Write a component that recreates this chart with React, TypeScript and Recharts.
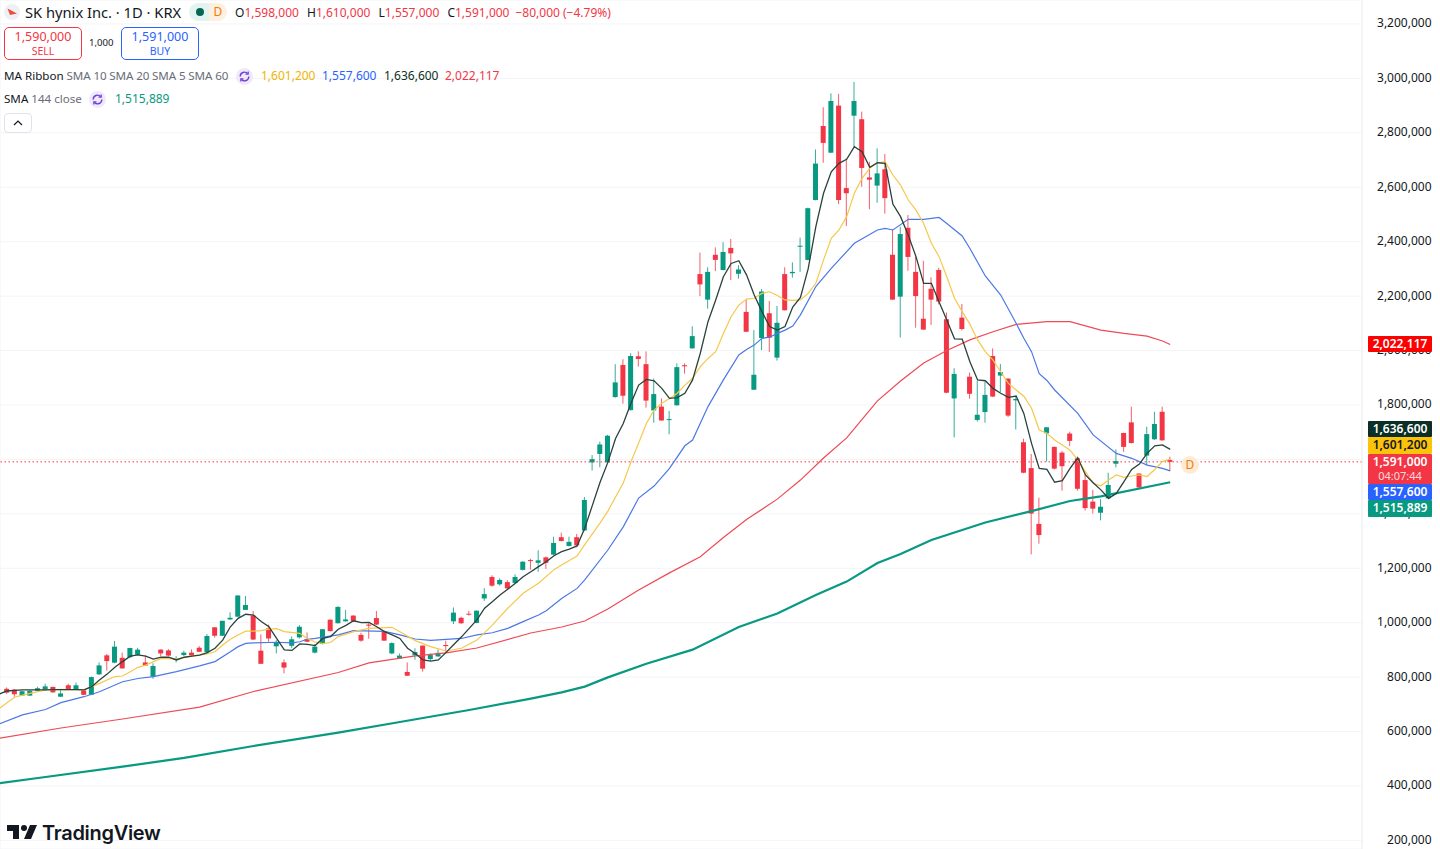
import React from 'react';
import { ComposedChart, Bar, Line, XAxis, YAxis, CartesianGrid, ReferenceLine } from 'recharts';

// All prices in thousand KRW. Candle index 0 is the first full candle in view.
const opens = [757,754,732,732,750,753,764,728,770,754,751,735,810,880,853,871,873,882,854,802,901,898,863,881,890,908,892,983,952,1012,1022,1047,1026,897,979,913,854,915,946,940,890,922,1011,998,1005,1026,955,993,1017,969,887,868,819,880,916,866,876,918,1005,1018,1033,999,1089,1168,1141,1149,1146,1194,1230,1220,1240,1250,1314,1282,1314,1339,1589,1620,1589,1829,1947,1781,1979,1950,1780,1794,1745,1799,1946,2008,2281,2187,2352,2296,2377,2282,2142,1856,2046,2137,1974,2281,2284,2383,2333,2553,2825,2727,2900,2597,2863,2850,2636,2606,2666,2352,2198,2451,2289,2117,2227,2296,2115,1824,2121,1904,1745,1774,1980,1908,1897,1817,1663,1568,1363,1696,1646,1625,1695,1604,1524,1445,1404,1457,1584,1697,1736,1548,1614,1674,1775,1598];
const closes = [743,737,748,750,759,766,744,740,755,770,735,800,843,859,912,832,907,901,842,841,887,879,868,890,880,893,951,952,1007,1018,1100,1065,938,849,942,928,835,939,985,930,912,976,969,1058,1012,1005,934,989,993,934,925,879,805,892,831,881,889,914,1037,998,1031,1044,1105,1136,1157,1126,1168,1224,1228,1229,1220,1293,1300,1297,1284,1451,1601,1655,1687,1883,1834,1980,1969,1816,1840,1743,1748,1939,1942,2053,2243,2289,2333,2362,2357,2298,2069,1911,2217,2047,2102,2148,2289,2385,2523,2687,2763,2917,2553,2578,2917,2671,2628,2651,2560,2187,2428,2344,2200,2077,2187,2180,1845,1914,2079,1841,1764,1837,1831,1921,1761,1822,1551,1401,1322,1718,1566,1575,1668,1492,1421,1419,1426,1506,1594,1646,1660,1497,1693,1730,1670,1591];
const highs = [762,756,750,750,765,776,765,755,776,780,756,802,854,885,933,890,908,908,880,851,902,903,877,897,902,914,958,984,1007,1038,1100,1098,1043,957,993,936,865,949,991,964,922,977,1012,1060,1047,1028,963,998,1043,971,928,887,854,906,916,887,902,934,1056,1022,1044,1045,1127,1174,1163,1156,1178,1226,1235,1266,1243,1316,1331,1316,1326,1462,1616,1665,1690,1950,1968,1990,1997,1997,1897,1824,1778,1953,1953,2089,2360,2306,2379,2398,2410,2314,2188,2075,2226,2182,2164,2306,2324,2415,2525,2739,2894,2945,2943,2706,2987,2878,2694,2743,2722,2445,2455,2498,2345,2330,2269,2304,2140,1935,2171,1919,1889,1886,2008,1951,1898,1830,1676,1620,1459,1718,1647,1631,1702,1610,1549,1488,1454,1551,1637,1698,1794,1549,1720,1775,1794,1610];
const lows = [738,728,732,732,749,750,743,728,753,753,734,734,808,824,851,831,871,881,841,794,877,877,854,877,877,892,885,945,951,1010,1022,1047,936,848,930,887,814,906,942,929,887,920,968,997,1004,1004,930,941,991,933,884,867,805,864,820,859,875,893,995,995,1026,998,1080,1132,1136,1123,1142,1192,1195,1187,1198,1249,1299,1280,1277,1337,1559,1571,1588,1827,1805,1780,1941,1790,1735,1742,1692,1797,1915,2007,2200,2154,2292,2295,2259,2264,2068,1855,2002,1995,1963,2147,2268,2289,2331,2552,2690,2726,2538,2458,2749,2602,2519,2543,2503,2186,2048,2293,2084,2076,2094,2170,1843,1681,2074,1823,1739,1735,1829,1848,1756,1710,1549,1251,1290,1592,1563,1485,1649,1485,1412,1401,1376,1454,1571,1628,1659,1491,1579,1671,1669,1557];

// SMA 5, one reading per candle, starting with the partly hidden candle -1.
const sma5 = [738,749,751,753,753,753,753,754,754,754,754,753,765,789,811,836,857,877,882,877,866,873,873,863,873,877,881,890,906,936,985,1016,1031,1028,1004,985,942,900,898,922,920,916,942,949,976,990,1007,1000,1001,985,967,955,942,906,887,863,859,863,891,920,948,979,1010,1053,1077,1102,1123,1145,1169,1187,1206,1224,1246,1261,1270,1282,1347,1432,1517,1589,1677,1732,1806,1873,1894,1889,1861,1824,1827,1843,1892,1990,2106,2186,2271,2320,2330,2278,2204,2143,2088,2075,2088,2160,2195,2300,2455,2578,2657,2688,2703,2749,2731,2673,2690,2688,2538,2492,2424,2345,2247,2247,2178,2112,2043,2042,1959,1892,1889,1861,1843,1828,1833,1769,1659,1567,1563,1516,1522,1567,1606,1543,1514,1488,1457,1475,1518,1563,1583,1622,1650,1653,1637];

type Pt = [number, number];
const sma10: Pt[] = [[-1,685],[0,706],[1,726],[2,734],[3,740],[5,753],[7,755],[10,753],[11,765],[12,777],[14,802],[15,804],[16,820],[17,836],[18,844],[20,869],[22,866],[24,877],[26,885],[27,893],[28,918],[29,939],[30,955],[31,969],[32,969],[33,971],[34,976],[35,978],[36,967],[38,961],[39,942],[40,929],[41,923],[42,927],[43,949],[45,967],[47,979],[50,983],[51,967],[53,934],[55,912],[57,896],[59,906],[61,936],[63,991],[65,1053],[67,1108],[69,1145],[71,1195],[72,1212],[74,1245],[75,1287],[77,1367],[78,1410],[80,1513],[81,1591],[82,1660],[83,1732],[84,1781],[85,1806],[86,1824],[87,1843],[88,1873],[89,1898],[90,1941],[91,1971],[92,1996],[93,2063],[94,2124],[95,2167],[96,2189],[97,2192],[98,2210],[99,2216],[100,2202],[101,2186],[102,2184],[103,2186],[104,2210],[105,2247],[106,2333],[107,2412],[108,2443],[109,2492],[110,2578],[111,2633],[112,2670],[113,2690],[114,2694],[115,2645],[116,2608],[117,2553],[118,2516],[119,2467],[120,2394],[121,2345],[122,2271],[123,2192],[124,2143],[125,2097],[126,2039],[127,1996],[128,1965],[129,1922],[130,1879],[131,1855],[132,1832],[133,1788],[134,1708],[135,1696],[136,1671],[137,1653],[138,1634],[139,1598],[140,1555],[141,1512],[142,1503],[143,1524],[144,1543],[145,1534],[146,1539],[147,1543],[148,1537],[149,1563],[150,1592],[151,1601]];
const sma20: Pt[] = [[-1,628],[2,661],[5,681],[7,706],[10,728],[12,746],[15,783],[17,795],[19,802],[22,820],[25,841],[27,857],[29,893],[30,912],[31,924],[32,926],[35,928],[37,926],[38,930],[39,939],[40,942],[43,955],[45,971],[49,968],[51,955],[53,940],[55,935],[57,939],[59,942],[61,955],[63,963],[65,979],[67,1004],[69,1028],[70,1044],[72,1089],[74,1126],[75,1157],[78,1267],[80,1352],[82,1458],[84,1502],[86,1567],[88,1650],[89,1671],[91,1794],[93,1892],[95,1984],[96,2004],[97,2020],[98,2045],[99,2049],[100,2063],[101,2075],[102,2090],[103,2131],[105,2235],[107,2302],[110,2394],[113,2443],[114,2449],[115,2443],[117,2482],[119,2482],[121,2489],[122,2467],[124,2421],[125,2375],[127,2274],[129,2204],[131,2100],[132,2045],[133,1996],[134,1915],[135,1890],[136,1855],[139,1769],[141,1690],[144,1622],[146,1604],[148,1579],[150,1567],[151,1558]];
const sma60: Pt[] = [[-1,575],[7,613],[15,646],[25,690],[32,747],[43,817],[47,852],[53,878],[57,889],[61,907],[68,962],[72,984],[75,1006],[78,1050],[82,1120],[86,1183],[90,1242],[93,1313],[96,1379],[100,1454],[103,1524],[106,1605],[109,1679],[113,1815],[116,1888],[119,1954],[122,2000],[125,2039],[128,2069],[131,2096],[135,2106],[138,2106],[142,2075],[145,2063],[148,2053],[150,2035],[151,2022]];
const sma144: Pt[] = [[-1,410],[5,433],[15,471],[23,503],[32,547],[43,596],[51,635],[60,679],[68,721],[72,744],[75,765],[78,799],[83,849],[89,901],[95,984],[100,1034],[105,1102],[109,1151],[113,1219],[116,1252],[120,1304],[127,1368],[133,1410],[138,1447],[142,1464],[151,1516]];

const yTicks = [200,400,600,800,1000,1200,1400,1600,1800,2000,2200,2400,2600,2800,3000,3200];
const dayTicks = [15,32,53,75,93,114,136,156];
const lastClose = 1591;

const UP = '#089981';
const DOWN = '#f23645';
const BLACK = '#2a423c';
const YELLOW = '#f5c84c';
const BLUE = '#4c78e6';
const K = 1000;
const FONT = '"Noto Sans", sans-serif';

const find = (s: Pt[], i: number) => { const p = s.find((q) => q[0] === i); return p ? p[1] * K : null; };
const rows = sma5.map((v, n) => {
  const i = n - 1;
  const has = i >= 0;
  return {
    i,
    o: has ? opens[i] * K : null,
    c: has ? closes[i] * K : null,
    range: has ? [lows[i] * K, highs[i] * K] : null,
    sma5: v * K,
    sma10: find(sma10, i),
    sma20: find(sma20, i),
    sma60: find(sma60, i),
    sma144: find(sma144, i),
  };
});

const Candle = (props: any) => {
  const { x, y, width, height, payload } = props;
  if (!payload || !payload.range || height == null) return null;
  const [lo, hi] = payload.range;
  const perUnit = height / (hi - lo);
  const at = (v: number) => y + (hi - v) * perUnit;
  const cx = x + width / 2;
  const up = payload.c >= payload.o;
  const col = up ? UP : DOWN;
  const top = at(Math.max(payload.o, payload.c));
  const bot = at(Math.min(payload.o, payload.c));
  return (
    <g>
      <rect x={cx - 0.5} y={y} width={1} height={height} fill={col} fillOpacity={0.8} />
      <rect x={cx - 2.5} y={top} width={5} height={Math.max(1, bot - top)} fill={col} />
    </g>
  );
};

const YTick = (props: any) => {
  const { y, payload } = props;
  return (
    <text x={1431.5} y={y - 0.5} dy={4} textAnchor="end" fontFamily={FONT} fontSize={12} fill="#131722">
      {(payload.value).toLocaleString('en-US')}
    </text>
  );
};

const abs = (l: number, t: number, extra: React.CSSProperties = {}): React.CSSProperties => ({ position: 'absolute', left: l, top: t, whiteSpace: 'nowrap', ...extra });

const Badge = ({ top, h, bg, fg, text, sub }: { top: number; h: number; bg: string; fg: string; text: string; sub?: string }) => (
  <div style={abs(1368, top, { width: 64, height: h, background: bg, color: fg, fontSize: 12, textAlign: 'center', borderRadius: 1, fontWeight: 600, lineHeight: '16px' })}>
    {text}
    {sub ? <div style={{ fontSize: 11, fontWeight: 400, lineHeight: '12px', opacity: 0.8 }}>{sub}</div> : null}
  </div>
);

const Loop = ({ l, t }: { l: number; t: number }) => (
  <svg style={abs(l, t)} width={17} height={17} viewBox="0 0 17 17">
    <circle cx={8.5} cy={8.5} r={8.5} fill="#efe9fb" />
    <path d="M4.2 8.5a4.3 4.3 0 0 1 7.4-3M12.8 8.5a4.3 4.3 0 0 1-7.4 3" fill="none" stroke="#6d3fd6" strokeWidth={1.4} />
    <path d="M12.2 3.4v2.8H9.5M4.8 13.6v-2.8h2.7" fill="none" stroke="#6d3fd6" strokeWidth={1.2} />
  </svg>
);

const TradeBox = ({ l, col, price, word }: { l: number; col: string; price: string; word: string }) => (
  <div style={abs(l, 27, { width: 76, height: 31, border: `1px solid ${col}`, borderRadius: 5, color: col, textAlign: 'center', background: '#fff' })}>
    <div style={{ fontSize: 12.5, lineHeight: '17px', marginTop: 0 }}>{price}</div>
    <div style={{ fontSize: 10.5, lineHeight: '12px' }}>{word}</div>
  </div>
);

export default function App() {
  document.body.style.margin = '0';
  return (
    <div style={{ position: 'relative', width: 1440, height: 849, overflow: 'hidden', background: '#fff', fontFamily: FONT, color: '#131722' }}>
      <ComposedChart width={1440} height={849} data={rows} margin={{ top: 0, right: 0, bottom: 0, left: 0 }}>
        <CartesianGrid stroke="#f3f4f6" strokeWidth={1} />
        <XAxis dataKey="i" type="number" domain={[-0.909, 175.9]} allowDataOverflow ticks={dayTicks} tick={false} tickLine={false} axisLine={false} height={0} />
        <YAxis orientation="right" width={78} domain={[168369, 3288086]} allowDataOverflow ticks={yTicks.map((v) => v * K)} interval={0} tick={<YTick />} tickLine={false} axisLine={{ stroke: '#eef0f3' }} />
        <ReferenceLine y={lastClose * K} stroke={DOWN} strokeDasharray="1.5 2.5" strokeWidth={1} />
        <Bar dataKey="range" barSize={5} shape={<Candle />} isAnimationActive={false} />
        <Line dataKey="sma144" stroke={UP} strokeWidth={2.2} dot={false} connectNulls type="linear" isAnimationActive={false} />
        <Line dataKey="sma60" stroke="#ee4a55" strokeWidth={1.2} dot={false} connectNulls type="linear" isAnimationActive={false} />
        <Line dataKey="sma20" stroke={BLUE} strokeWidth={1.2} dot={false} connectNulls type="linear" isAnimationActive={false} />
        <Line dataKey="sma10" stroke={YELLOW} strokeWidth={1.2} dot={false} connectNulls type="linear" isAnimationActive={false} />
        <Line dataKey="sma5" stroke={BLACK} strokeWidth={1.3} dot={false} type="linear" isAnimationActive={false} />
      </ComposedChart>

      {/* header */}
      <svg style={abs(4, 4)} width={16} height={16} viewBox="0 0 16 16">
        <circle cx={8} cy={8} r={8} fill="#eef0f5" />
        <path d="M3.5 4.5L13 9.5L6 11Z" fill="#e8503a" />
      </svg>
      <div style={abs(25, 2, { fontSize: 14.7, lineHeight: '20px' })}>SK hynix Inc. · 1D · KRX</div>
      <div style={abs(189, 3, { width: 20, height: 18, background: '#e3f3ef', borderRadius: '9px 0 0 9px' })}>
        <div style={{ position: 'absolute', left: 7, top: 5, width: 8, height: 8, borderRadius: 4, background: '#056656' }} />
      </div>
      <div style={abs(209, 3, { width: 18, height: 18, background: '#fdf0e0', borderRadius: '0 9px 9px 0', color: '#f57c00', fontSize: 12, lineHeight: '18px', textAlign: 'center' })}>D</div>
      <div style={abs(235, 4, { fontSize: 12, lineHeight: '17px', color: DOWN })}>
        <span style={{ color: '#131722' }}>O</span>1,598,000{'  '}
        <span style={{ color: '#131722', marginLeft: 5 }}>H</span>1,610,000{'  '}
        <span style={{ color: '#131722', marginLeft: 5 }}>L</span>1,557,000{'  '}
        <span style={{ color: '#131722', marginLeft: 5 }}>C</span>1,591,000
        <span style={{ marginLeft: 6 }}>−80,000 (−4.79%)</span>
      </div>
      <TradeBox l={4} col={DOWN} price="1,590,000" word="SELL" />
      <div style={abs(89, 35, { fontSize: 9.6, lineHeight: '16px' })}>1,000</div>
      <TradeBox l={121} col="#2962ff" price="1,591,000" word="BUY" />

      <div style={abs(4, 68, { fontSize: 11.6, lineHeight: '16px' })}>
        MA Ribbon <span style={{ color: '#6a6d78', letterSpacing: -0.12 }}>SMA 10 SMA 20 SMA 5 SMA 60</span>
      </div>
      <Loop l={236} t={68} />
      <div style={abs(261, 68, { fontSize: 12, lineHeight: '16px', color: '#f0b400' })}>1,601,200</div>
      <div style={abs(322, 68, { fontSize: 12, lineHeight: '16px', color: '#2962ff' })}>1,557,600</div>
      <div style={abs(384, 68, { fontSize: 12, lineHeight: '16px', color: '#0d2f27' })}>1,636,600</div>
      <div style={abs(445, 68, { fontSize: 12, lineHeight: '16px', color: DOWN })}>2,022,117</div>

      <div style={abs(4, 91, { fontSize: 11.6, lineHeight: '16px' })}>
        SMA <span style={{ color: '#6a6d78' }}>144 close</span>
      </div>
      <Loop l={89} t={91} />
      <div style={abs(115, 91, { fontSize: 12, lineHeight: '16px', color: UP })}>1,515,889</div>
      <div style={abs(4, 113, { width: 26, height: 18, border: '1px solid #e0e3eb', borderRadius: 4, background: '#fff' })}>
        <svg width={26} height={18}><path d="M9 11l4-4 4 4" fill="none" stroke="#131722" strokeWidth={1.2} /></svg>
      </div>

      {/* price scale badges */}
      <Badge top={336} h={16} bg="#ff0000" fg="#fff" text="2,022,117" />
      <Badge top={421} h={16} bg="#0b2f27" fg="#fff" text="1,636,600" />
      <Badge top={437} h={17} bg="#fbc40a" fg="#131722" text="1,601,200" />
      <Badge top={454} h={30} bg={DOWN} fg="#fff" text="1,591,000" sub="04:07:44" />
      <Badge top={484} h={16} bg="#2962ff" fg="#fff" text="1,557,600" />
      <Badge top={500} h={17} bg={UP} fg="#fff" text="1,515,889" />

      {/* session marker */}
      <div style={abs(1181, 456, { width: 18, height: 18, borderRadius: 9, background: '#fdebd6', color: '#f57c00', fontSize: 12, lineHeight: '18px', textAlign: 'center' })}>D</div>

      {/* brand mark */}
      <svg style={abs(7, 824)} width={30} height={16} viewBox="0 0 30 16">
        <path d="M0 1h12v14H6V7H0Z" fill="#131722" />
        <circle cx={17} cy={4} r={3} fill="#131722" />
        <path d="M23 1h7l-6 14h-7Z" fill="#131722" />
      </svg>
      <div style={abs(42, 819, { fontSize: 20, fontWeight: 600, lineHeight: '28px', color: '#131722', fontFamily: 'Inter, sans-serif', letterSpacing: -0.3 })}>TradingView</div>
    </div>
  );
}
